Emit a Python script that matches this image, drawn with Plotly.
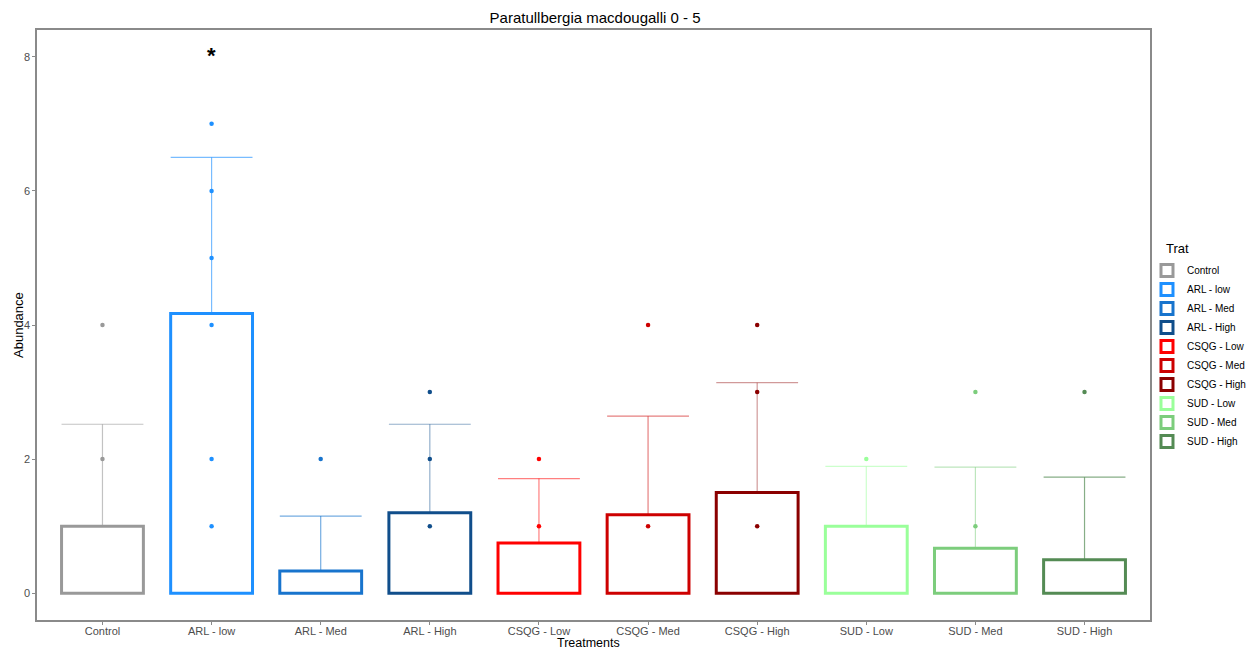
import plotly.graph_objects as go

# Treatment groups
treatments = ["Control", "ARL - low", "ARL - Med", "ARL - High", "CSQG - Low",
              "CSQG - Med", "CSQG - High", "SUD - Low", "SUD - Med", "SUD - High"]

# Mean abundance per treatment and the upper error (standard deviation)
mean_abundance = [1.00, 4.17, 0.33, 1.20, 0.75, 1.17, 1.50, 1.00, 0.67, 0.50]
error_abundance = [1.52, 2.33, 0.82, 1.32, 0.96, 1.47, 1.64, 0.89, 1.21, 1.23]

# Individual observations drawn as points
observations = [
    [2, 4],
    [1, 2, 4, 5, 6, 7],
    [2],
    [1, 2, 3],
    [1, 2],
    [1, 4],
    [1, 3, 4],
    [2],
    [1, 3],
    [3],
]

y_ticks = [0, 2, 4, 6, 8]

colors = ["#999999", "#1E90FF", "#1874CD", "#104E8B", "#FF0000",
          "#CD0000", "#8B0000", "#9AFF9A", "#7CCD7C", "#548B54"]
whisker_colors = ["rgba(153,153,153,0.6)", "rgba(30,144,255,0.6)", "rgba(24,116,205,0.6)",
                  "rgba(16,78,139,0.45)", "rgba(255,0,0,0.5)", "rgba(205,0,0,0.5)",
                  "rgba(139,0,0,0.4)", "rgba(154,255,154,0.5)", "rgba(124,205,124,0.5)",
                  "rgba(84,139,84,0.7)"]

bar_width = 0.75
positions = list(range(len(treatments)))

fig = go.Figure()

for i, name in enumerate(treatments):
    top = mean_abundance[i] + error_abundance[i]
    # error whisker with cap, drawn upward from the bar top
    fig.add_trace(go.Scatter(
        x=[i - bar_width / 2, i + bar_width / 2, None, i, i],
        y=[top, top, None, top, mean_abundance[i]],
        mode="lines",
        line=dict(color=whisker_colors[i], width=1.2),
        showlegend=False, hoverinfo="skip",
    ))

for i, name in enumerate(treatments):
    fig.add_trace(go.Bar(
        x=[i], y=[mean_abundance[i]], width=bar_width,
        name=name, legendgroup=name,
        marker=dict(color="rgba(255,255,255,0)", line=dict(color=colors[i], width=3)),
        showlegend=True,
    ))

for i, name in enumerate(treatments):
    fig.add_trace(go.Scatter(
        x=[i] * len(observations[i]), y=observations[i],
        mode="markers", marker=dict(color=colors[i], size=4.5),
        legendgroup=name, showlegend=False,
    ))

# significance mark above ARL - low
fig.add_annotation(x=1, y=8.02, text="<b>*</b>", showarrow=False,
                   font=dict(size=22, color="black", family="Liberation Sans"))

# axis titles
fig.add_annotation(xref="paper", yref="paper", x=0.4955, y=-0.0385,
                   xanchor="center", yanchor="middle", showarrow=False,
                   text="Treatments", font=dict(size=12.5, color="black"))
fig.add_annotation(xref="paper", yref="paper", x=-0.0171, y=0.5,
                   xanchor="center", yanchor="middle", showarrow=False, textangle=-90,
                   text="Abundance", font=dict(size=13, color="black"))

# legend heading
fig.add_annotation(xref="paper", yref="paper", x=1.0126, y=0.6305,
                   xanchor="left", yanchor="middle", showarrow=False,
                   text="Trat", font=dict(size=13, color="black"))

fig.update_layout(
    width=1248, height=649,
    margin=dict(l=37, r=98, t=30, b=29, autoexpand=False),
    paper_bgcolor="white", plot_bgcolor="white",
    font=dict(family="Liberation Sans, Arial, sans-serif"),
    title=dict(text="Paratullbergia macdougalli 0 - 5", x=0.4768, xanchor="center",
               y=0.972, yanchor="middle",
               font=dict(size=15, color="black")),
    barmode="overlay",
    showlegend=True,
    legend=dict(
        x=0.9973, xanchor="left", y=0.617, yanchor="top",
        bgcolor="rgba(0,0,0,0)",
        font=dict(size=10, color="black"),
        tracegroupgap=0, itemwidth=30,
    ),
    xaxis=dict(
        range=[-0.6, 9.6], tickmode="array", tickvals=positions, ticktext=treatments,
        showgrid=False, zeroline=False, showline=True, mirror=True,
        linecolor="#8a8a8a", linewidth=1.5, automargin=False,
        ticks="outside", ticklen=3, tickcolor="#8a8a8a", ticklabelstandoff=-3,
        tickfont=dict(size=11, color="#4D4D4D"),
    ),
    yaxis=dict(
        range=[-0.4, 8.4], tickvals=y_ticks,
        showgrid=False, zeroline=False, showline=True, mirror=True,
        linecolor="#8a8a8a", linewidth=1.5, automargin=False,
        ticks="outside", ticklen=3, tickcolor="#8a8a8a",
        tickfont=dict(size=11, color="#4D4D4D"),
    ),
)

fig.write_html("out.html")
